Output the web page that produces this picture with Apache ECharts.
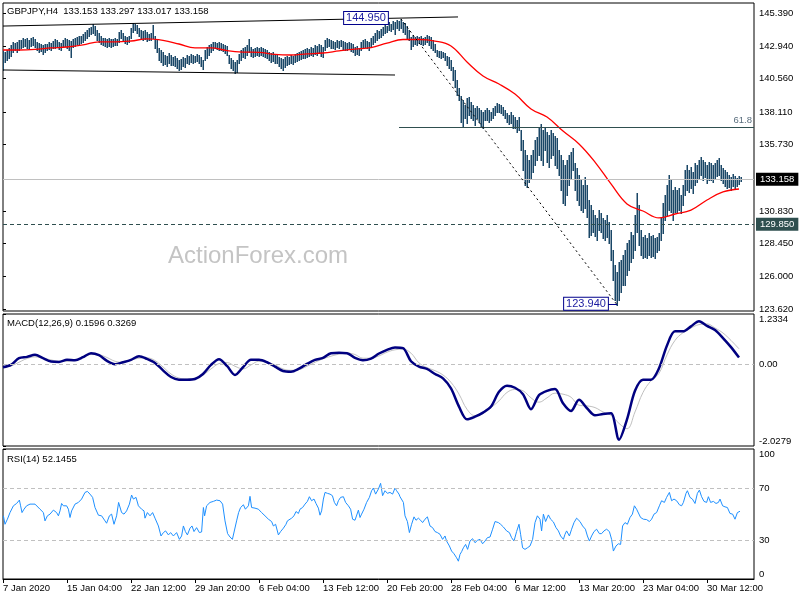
<!DOCTYPE html>
<html><head><meta charset="utf-8">
<script src="https://cdn.jsdelivr.net/npm/echarts@6/dist/echarts.min.js"></script>
<style>html,body{margin:0;padding:0;background:#fff}#c{width:800px;height:600px}</style>
</head><body><div id="c"></div>
<script>
const symbolTitle = 'GBPJPY,H4  133.153 133.297 133.017 133.158';
const macdTitle = 'MACD(12,26,9) 0.1596 0.3269';
const rsiTitle = 'RSI(14) 52.1455';
const timeLabels = ['7 Jan 2020','15 Jan 04:00','22 Jan 12:00','29 Jan 20:00','6 Feb 04:00','13 Feb 12:00','20 Feb 20:00','28 Feb 04:00','6 Mar 12:00','13 Mar 20:00','23 Mar 04:00','30 Mar 12:00'];
const timeLabelIdx = [0,32,64,96,128,160,192,224,256,288,320,352];
const priceTicks = [145.39,142.94,140.56,138.11,135.73,130.83,128.45,126.00,123.62];
const macdTicks = [1.2334,0,-2.0279];
const rsiTicks = [100,70,30,0];

const highs = [
142.67,142.52,142.67,142.82,143.04,143.26,143.18,143.26,143.40,143.40,
143.55,143.48,143.55,143.40,143.55,143.63,143.48,143.26,143.18,143.11,
143.04,143.11,143.11,143.26,143.18,143.33,143.48,143.40,143.26,143.18,
143.40,143.55,143.48,143.40,143.33,143.48,143.55,143.63,143.70,143.70,
143.85,143.99,144.14,144.29,144.36,144.58,144.43,144.14,143.92,143.70,
143.55,143.55,143.48,143.55,143.48,143.48,143.55,143.48,143.99,144.14,
143.92,143.70,143.63,143.70,144.29,144.66,144.58,144.51,144.29,144.14,
144.07,144.14,143.99,143.85,143.92,144.51,143.70,143.40,142.82,142.67,
142.52,142.30,142.23,142.45,142.30,142.16,142.23,142.08,141.93,142.01,
142.16,142.08,142.30,142.23,142.38,142.30,142.23,142.38,142.30,142.16,
141.93,142.67,142.89,143.04,143.11,143.26,143.26,143.18,143.26,143.18,
143.11,143.04,142.96,142.30,142.08,141.93,141.79,141.93,142.38,142.67,
142.82,142.89,143.04,143.48,142.89,142.74,142.82,142.89,142.82,142.89,
142.82,142.74,142.67,142.52,142.45,142.52,142.38,142.30,142.16,142.08,
142.01,142.16,142.23,142.16,142.30,142.23,142.38,142.45,142.52,142.60,
142.67,142.74,142.82,142.74,142.89,142.82,143.04,142.96,143.11,143.04,
142.89,143.40,143.55,143.48,143.40,143.33,143.26,143.40,143.33,143.40,
143.33,143.26,143.18,143.26,143.18,143.11,142.89,142.96,142.82,143.26,
143.40,143.48,143.33,143.26,143.55,143.70,143.92,144.14,144.07,144.21,
144.36,144.51,144.43,144.73,144.58,144.80,144.73,144.88,144.80,144.95,
144.73,144.66,144.43,144.14,143.63,143.77,143.63,143.70,143.63,143.70,
143.55,143.63,143.77,143.70,143.63,143.40,143.11,142.67,142.60,142.60,
142.52,142.45,142.23,142.16,141.93,141.42,141.20,140.46,139.88,139.29,
138.99,138.63,139.14,139.21,138.85,138.63,138.41,138.55,138.41,138.26,
138.11,138.26,138.41,138.26,138.11,138.41,138.55,138.77,138.70,138.63,
138.48,138.26,138.04,137.89,138.11,137.89,137.74,137.52,137.74,136.79,
136.05,135.32,134.95,134.58,134.95,135.32,136.05,136.27,137.01,137.23,
136.79,136.93,136.64,136.42,136.79,136.57,136.35,136.20,135.32,134.95,
134.58,134.21,134.58,134.95,135.17,135.46,134.36,133.99,133.48,133.11,
132.74,133.33,132.74,131.64,131.27,130.90,130.54,130.32,130.90,130.68,
130.32,130.17,130.54,130.02,129.43,127.96,126.86,126.35,127.08,127.23,
127.60,127.96,128.48,128.70,129.29,129.07,130.54,132.16,131.27,129.43,
128.92,129.07,128.85,129.21,128.99,129.07,128.85,128.92,129.21,130.32,
131.42,132.01,132.74,133.48,133.11,132.38,132.60,132.38,132.52,132.01,
132.74,133.85,134.21,133.85,134.07,133.70,134.36,134.21,134.58,134.80,
134.58,134.43,134.21,134.43,134.36,134.21,134.36,134.58,134.73,134.21,
133.99,133.85,133.70,133.48,133.33,133.55,133.41,133.26,133.41,133.297];

const lows = [
141.20,141.79,141.93,142.08,142.23,142.52,142.67,142.52,142.67,142.82,
142.89,142.96,142.82,142.74,142.96,143.04,142.89,142.67,142.52,142.60,
142.38,142.52,142.67,142.74,142.67,142.82,142.82,142.89,142.74,142.67,
142.89,142.96,142.82,142.67,142.16,142.89,142.96,143.11,143.11,143.18,
143.26,143.40,143.55,143.70,143.85,143.92,143.77,143.40,143.26,143.11,
143.04,142.96,142.89,142.96,142.89,142.96,143.04,143.04,143.26,143.55,
143.33,143.18,143.11,143.26,143.55,143.99,144.14,143.92,143.70,143.55,
143.40,143.48,143.33,143.40,143.40,143.55,142.82,142.52,141.93,141.79,
141.57,141.64,141.49,141.71,141.57,141.57,141.49,141.35,141.20,141.27,
141.49,141.42,141.71,141.64,141.79,141.71,141.79,141.86,141.71,141.49,
141.27,141.93,142.08,142.30,142.52,142.67,142.82,142.74,142.67,142.67,
142.60,142.45,142.30,141.71,141.35,141.20,140.98,141.05,141.71,141.93,
142.16,142.08,142.30,142.52,142.23,142.16,142.23,142.30,142.23,142.30,
142.23,142.16,142.08,141.93,141.79,141.86,141.71,141.71,141.49,141.35,
141.20,141.42,141.57,141.64,141.71,141.64,141.79,141.86,141.93,142.01,
142.08,142.08,142.16,142.23,142.30,142.23,142.38,142.30,142.45,142.23,
142.16,142.67,142.89,142.96,142.82,142.82,142.74,142.89,142.82,142.96,
142.74,142.67,142.67,142.74,142.60,142.52,142.30,142.38,142.30,142.67,
142.82,142.89,142.82,142.67,142.96,143.11,143.26,143.40,143.55,143.63,
143.77,143.92,143.99,144.14,144.07,144.21,143.85,144.29,144.14,144.29,
143.99,143.85,143.55,143.40,142.74,142.96,143.11,143.04,143.18,143.11,
143.04,143.11,143.26,143.04,142.82,142.67,142.52,142.23,142.16,142.08,
142.16,141.93,141.57,141.35,141.20,140.46,139.95,139.36,138.99,137.38,
137.08,137.67,137.30,137.89,137.67,137.52,137.15,137.67,137.38,137.08,
136.93,137.52,137.52,137.38,137.52,137.67,137.89,138.11,138.11,138.04,
137.89,137.67,137.38,137.23,137.30,136.93,136.93,136.64,136.79,135.32,
133.85,132.74,132.60,132.96,133.26,133.70,134.21,134.58,134.95,134.58,
134.21,135.32,134.43,134.07,134.73,134.95,134.21,133.99,133.48,132.38,
131.42,131.27,132.01,132.74,133.26,133.85,132.38,131.64,131.27,130.90,
130.76,131.05,130.39,128.92,129.07,129.29,128.99,128.70,129.43,129.29,
128.85,128.70,128.92,128.48,127.23,125.76,124.29,123.94,124.29,124.87,
125.39,125.39,126.13,126.49,127.08,127.37,127.96,129.29,128.33,127.60,
127.37,127.45,127.37,127.60,127.45,127.52,127.37,127.82,127.96,128.70,
129.21,130.17,130.54,130.90,130.76,130.17,130.76,130.68,130.90,130.68,
131.27,132.01,132.38,132.23,132.52,132.16,132.74,132.96,133.26,133.48,
133.11,133.33,132.89,133.11,133.11,132.96,133.26,133.41,133.48,133.11,
132.89,132.67,132.52,132.60,132.38,132.67,132.52,132.67,132.82,133.017];

const maStep = 8;
const ma = [142.67,142.67,142.71,142.82,142.89,143.04,143.26,143.26,143.33,143.48,
143.37,143.11,142.82,142.82,142.63,142.52,142.49,142.34,142.30,142.38,
142.45,142.60,142.74,142.85,143.18,143.44,143.44,143.33,142.96,141.79,
140.76,140.17,139.43,138.33,137.74,136.71,135.76,134.43,132.82,131.35,
130.83,130.32,130.61,130.90,131.64,132.23,132.45];

const macdStep = 4;
const macdMain = [-0.083,-0.025,0.141,0.174,0.224,0.141,0.058,0.050,0.100,0.091,
0.166,0.266,0.216,0.075,-0.008,0.041,0.100,0.191,0.124,0.025,
-0.158,-0.324,-0.390,-0.390,-0.373,-0.249,-0.025,0.116,-0.050,-0.274,
-0.083,0.100,0.100,0.041,-0.066,-0.174,-0.191,-0.116,0.000,0.100,
0.149,0.266,0.274,0.266,0.149,0.091,0.133,0.257,0.349,0.407,
0.390,0.066,-0.066,-0.124,-0.249,-0.357,-0.606,-1.054,-1.369,-1.303,
-1.203,-1.054,-0.689,-0.539,-0.589,-0.747,-1.120,-0.772,-0.664,-0.622,
-0.971,-1.162,-0.888,-1.095,-1.270,-1.237,-1.220,-1.870,-1.369,-0.664,
-0.390,-0.390,-0.108,0.456,0.805,0.805,0.929,1.054,0.938,0.838,
0.639,0.415,0.158];
const macdSignal = [-0.083,-0.050,0.041,0.133,0.174,0.141,0.100,0.066,0.066,0.091,
0.166,0.232,0.224,0.158,0.066,0.041,0.091,0.141,0.149,0.083,
-0.075,-0.249,-0.349,-0.373,-0.349,-0.274,-0.124,0.008,0.033,-0.058,
-0.124,-0.025,0.066,0.041,-0.025,-0.124,-0.158,-0.141,-0.058,0.041,
0.124,0.191,0.241,0.266,0.232,0.141,0.141,0.199,0.290,0.349,
0.365,0.266,0.025,-0.091,-0.166,-0.274,-0.456,-0.747,-1.120,-1.278,
-1.228,-1.079,-0.913,-0.705,-0.631,-0.664,-0.838,-0.946,-0.838,-0.722,
-0.747,-0.822,-1.021,-1.037,-1.079,-1.187,-1.270,-1.469,-1.602,-1.187,
-0.705,-0.415,-0.232,0.224,0.581,0.772,0.888,0.971,0.988,0.888,
0.763,0.581,0.373];

const rsi = [[0.2,48.6],[1,42.1],[2.2,46.0],[3.5,51.1],[5.2,56.3],[6.8,58.1],[8.2,60.7],[8.8,56.3],[9.5,51.1],[10.5,53.7],[11.8,56.3],[13.5,57.6],[14.3,58.9],[16,57.6],[16.8,58.1],[18.5,53.7],[20.2,51.1],[21,44.7],[22.2,48.6],[23.5,49.9],[25.2,53.0],[26,53.7],[26.8,51.1],[27.7,48.6],[28.5,52.4],[29.3,58.1],[30.2,56.3],[31.8,56.3],[32.7,53.7],[33.5,47.3],[34.3,52.4],[36,57.6],[37.7,58.9],[39.3,61.5],[41,66.6],[42.2,67.4],[43.5,65.3],[44.8,62.8],[46,55.0],[47.7,49.1],[49.3,48.6],[51,44.7],[51.8,42.9],[53.2,48.6],[54.3,49.9],[55.5,42.1],[56.8,48.6],[57.8,58.9],[58.5,60.2],[59.3,51.1],[60.5,49.9],[61.8,52.4],[63.2,57.6],[64.3,64.6],[65.2,61.5],[66.5,62.8],[67.7,56.3],[69.3,53.7],[70.5,52.4],[71,46.8],[72.2,51.1],[73.5,48.6],[74.8,51.1],[76,46.8],[77.7,40.8],[79,33.1],[80.2,35.7],[81.3,37.0],[82.7,33.9],[83.8,35.7],[85.2,33.1],[86.8,35.7],[88.2,30.5],[89.3,33.1],[90.2,40.8],[91.2,36.5],[92.2,33.9],[93.5,39.1],[94.5,40.8],[95.5,36.5],[96.8,39.5],[98.2,35.7],[99.3,36.2],[100.2,55.0],[100.8,48.6],[101.8,56.3],[103.5,58.9],[105.2,59.7],[106.8,60.7],[108.5,60.2],[109.8,57.6],[111,44.7],[112.3,34.9],[113.5,32.3],[114.7,30.5],[115.7,31.8],[116.8,44.7],[117.8,51.1],[118.8,55.0],[120.2,57.1],[121.2,53.7],[122.7,56.3],[123.5,63.6],[124.3,55.0],[126,54.5],[127.7,53.7],[129.3,51.1],[131,48.6],[132.7,46.0],[134.3,44.2],[135.2,40.8],[136.3,42.1],[137.7,33.9],[138.8,36.5],[140.2,39.1],[141.5,42.1],[142.2,44.7],[143.2,43.4],[144.3,46.8],[145.5,48.6],[146.5,51.9],[147.7,50.4],[148.5,53.7],[149.8,55.0],[151,57.6],[152.2,59.7],[153.2,63.3],[154.3,60.2],[155.5,61.5],[156.5,58.1],[157.7,54.5],[158.5,49.1],[159.3,52.4],[160.2,61.5],[161,66.6],[162.2,65.9],[163.5,65.3],[164.7,64.1],[165.7,58.9],[166.8,56.3],[167.7,60.2],[168.8,62.8],[170.2,63.3],[171.3,58.9],[172.7,56.3],[173.8,53.7],[174.8,46.0],[176,45.2],[176.8,44.2],[177.7,53.0],[178.5,47.3],[179.3,49.9],[180.5,53.7],[181.8,58.9],[183.2,62.8],[184.3,67.9],[185.2,70.0],[186.3,65.3],[187.7,69.2],[188.8,73.6],[189.8,64.1],[191,67.9],[192.2,65.9],[193.5,66.6],[194.8,65.3],[196,70.0],[196.8,67.9],[198,65.3],
[198.5,63.3],[200.2,58.9],[201,48.6],[202.2,44.2],[203.2,35.7],[204.3,42.1],[205.5,47.8],[206.5,45.2],[207.7,46.8],[208.8,45.2],[209.8,43.4],[211,46.0],[212.2,47.8],[213.5,40.8],[214.8,39.5],[216,36.5],[217.2,35.7],[218.5,34.4],[219.8,30.5],[221,33.1],[221.8,29.2],[223.2,25.4],[224.3,21.5],[225.5,19.4],[226.8,16.3],[227.7,13.7],[228.5,18.9],[229.3,21.0],[230.2,24.0],[231.3,26.6],[232.3,22.8],[233.5,29.2],[234.8,31.0],[236,27.9],[237.2,29.7],[238.5,30.5],[239.8,27.1],[241,29.2],[242.2,31.8],[243.5,32.3],[244.8,38.3],[246,44.2],[247.7,43.4],[248.8,42.1],[250.2,40.0],[251.8,37.0],[253.2,35.7],[254.3,31.8],[255.5,29.2],[256.8,36.5],[258,42.1],[258.8,34.4],[259.8,24.0],[261,22.8],[262.2,24.0],[263.5,25.4],[264.8,30.5],[266,43.4],[267.2,48.6],[268.5,46.0],[269.3,37.0],[270.2,49.9],[271.3,44.2],[272.7,49.3],[273.8,46.0],[275.2,43.9],[276.5,39.5],[277.7,37.0],[278.8,33.1],[280.2,30.5],[281,34.4],[281.8,37.0],[283.2,33.1],[284.3,38.3],[285.5,43.4],[286.8,46.8],[288.5,44.2],[289.8,40.8],[291.2,38.3],[292.2,33.1],[293.2,29.2],[294.3,33.1],[295.5,36.5],[296.8,38.3],[298.2,34.9],[299.3,34.9],[300.5,37.0],[301.8,38.3],[303.2,36.5],[304.3,30.5],[305.2,21.5],[306.5,25.4],[307.7,27.1],[308.8,26.6],[309.8,40.8],[311,43.4],[312.2,42.1],[313.5,47.3],[314.7,49.9],[315.7,56.3],[316.8,53.7],[317.7,55.0],[318.8,47.3],[320.2,46.0],[321.8,45.7],[323.2,44.2],[324.3,46.0],[325.5,49.9],[326.8,51.1],[328.2,56.3],[329.3,60.2],[330.7,58.9],[331.8,62.8],[333.2,66.6],[334.3,60.2],[335.5,61.5],[336.8,60.2],[338.2,57.1],[339.3,56.3],[340.2,58.9],[341.5,65.9],[342.2,67.9],[343.5,62.8],[344.7,61.5],[346,58.1],[347.2,65.9],[348.2,68.4],[349.3,63.3],[350.5,59.7],[351.8,58.9],[352.7,63.3],[353.8,58.9],[355.2,59.7],[356.5,58.1],[357.7,58.9],[358.5,61.5],[359.8,56.3],[361,55.5],[362.2,55.0],[363.5,50.4],[364.8,49.9],[366,46.0],[367.2,51.1],[368.5,52.1]];

const lastPrice = 133.158;
const supportLevel = 129.85;
const fib618Level = 136.99;
const swingHigh = 144.95, swingHighIdx = 199;
const swingLow = 123.94, swingLowIdx = 307;
const channelUpper = [[0,144.43],[227.5,145.10]];
const channelLower = [[0,141.20],[196,140.83]];
const fibStartIdx = 198;

const FONT = '"Liberation Sans", Arial, sans-serif';
const XMAX = 375.5;
const BAR_COLOR = '#1a4767';

const chart = echarts.init(document.getElementById('c'), null, {renderer: 'canvas'});

const hiddenX = (g) => ({type:'value', gridIndex:g, min:0, max:XMAX, axisLine:{show:false}, axisTick:{show:false}, axisLabel:{show:false}, splitLine:{show:false}});
const txt = {fontSize: 9.5, color: '#000', fontFamily: FONT};
const titleStyle = {fontSize: 9.5, fontWeight: 'normal', color: '#000', fontFamily: FONT};

function renderBar(params, api) {
  const top = api.coord([api.value(0), api.value(1)]);
  const bot = api.coord([api.value(0), api.value(2)]);
  const x = top[0] + 0.25;
  return {type:'line', shape:{x1:x, y1:Math.round(top[1]), x2:x, y2:Math.round(bot[1]) + 1}, style:{stroke:BAR_COLOR, lineWidth:1.5}};
}

const option = {
  animation: false,
  backgroundColor: '#fff',
  title: [
    {text: symbolTitle, left: 7, top: 6, padding: 0, textStyle: titleStyle},
    {text: macdTitle, left: 7, top: 318, padding: 0, textStyle: titleStyle},
    {text: rsiTitle, left: 7, top: 454, padding: 0, textStyle: titleStyle}
  ],
  graphic: [{type: 'text', left: 168, top: 244, z: 0, style: {text: 'ActionForex.com', fill: '#c4c4c4', font: '24px "Liberation Sans", Arial, sans-serif'}}],
  grid: [
    {left: 3, right: 46, top: 3, height: 308, show: true, borderColor: '#000', borderWidth: 1, backgroundColor: 'transparent'},
    {left: 3, right: 46, top: 314, height: 132, show: true, borderColor: '#000', borderWidth: 1, backgroundColor: 'transparent'},
    {left: 3, right: 46, top: 449, height: 130, show: true, borderColor: '#000', borderWidth: 1, backgroundColor: 'transparent'}
  ],
  xAxis: [
    hiddenX(0), hiddenX(1),
    {type:'value', gridIndex:2, min:0, max:XMAX, splitLine:{show:false},
     axisLine:{show:true, lineStyle:{color:'#000'}},
     axisTick:{show:true, customValues: timeLabelIdx, length: 4, lineStyle:{color:'#000'}},
     axisLabel:{show:true, customValues: timeLabelIdx, formatter: v => timeLabels[timeLabelIdx.indexOf(v)] || '', align:'left', margin:4, ...txt}}
  ],
  yAxis: [
    {type:'value', gridIndex:0, position:'right', min:123.478, max:146.125, splitLine:{show:false},
     axisLine:{show:false}, axisTick:{show:true, customValues: priceTicks, length:3, lineStyle:{color:'#000'}},
     axisLabel:{customValues: priceTicks, formatter: v => v.toFixed(3), margin:5, ...txt}},
    {type:'value', gridIndex:1, position:'right', min:-2.0279, max:1.2334, splitLine:{show:false},
     axisLine:{show:false}, axisTick:{show:true, customValues: macdTicks, length:3, lineStyle:{color:'#000'}},
     axisLabel:{customValues: macdTicks, formatter: v => v === 0 ? '0.00' : v.toFixed(4), margin:5, verticalAlignMaxLabel:'bottom', verticalAlignMinLabel:'top', ...txt}},
    {type:'value', gridIndex:2, position:'right', min:0, max:100, splitLine:{show:false},
     axisLine:{show:false}, axisTick:{show:true, customValues: rsiTicks, length:3, lineStyle:{color:'#000'}},
     axisLabel:{customValues: rsiTicks, formatter: v => String(v), margin:5, verticalAlignMaxLabel:'bottom', verticalAlignMinLabel:'top', ...txt}}
  ],
  series: [
    {type:'custom', name:'bars', xAxisIndex:0, yAxisIndex:0, renderItem: renderBar, clip: true,
     encode:{x:0, y:[1,2]}, data: highs.map((h,i) => [i, h, lows[i]]), z: 2},
    {type:'line', name:'MA', xAxisIndex:0, yAxisIndex:0, symbol:'none', smooth:0.4, z:3,
     lineStyle:{color:'#ff0000', width:1.3}, data: ma.map((v,k) => [k*maStep, v]),
     markLine: {silent:true, symbol:['none','none'], animation:false,
       data: [
         {yAxis: lastPrice, lineStyle:{color:'#c0c0c0', type:'solid', width:1},
          label:{show:true, position:'end', distance:2, formatter:'133.158', backgroundColor:'#000', color:'#fff', padding:[2,4,1,4], fontSize:9.5, fontFamily:FONT}},
         {yAxis: supportLevel, lineStyle:{color:'#2f4f4f', type:[4,3], width:1},
          label:{show:true, position:'end', distance:2, formatter:'129.850', backgroundColor:'#2f4f4f', color:'#fff', padding:[2,4,1,4], fontSize:9.5, fontFamily:FONT}},
         [{coord:[fibStartIdx, fib618Level], lineStyle:{color:'#2f4f4f', type:'solid', width:1},
           label:{show:true, position:'insideEndTop', formatter:'61.8', color:'#5a6e7e', fontSize:9.5, fontFamily:FONT, distance:2}},
          {coord:[XMAX, fib618Level]}],
         [{coord:channelUpper[0], lineStyle:{color:'#000', type:'solid', width:1}, label:{show:false}}, {coord:channelUpper[1]}],
         [{coord:channelLower[0], lineStyle:{color:'#000', type:'solid', width:1}, label:{show:false}}, {coord:channelLower[1]}],
         [{coord:[swingHighIdx, swingHigh], lineStyle:{color:'#000', type:[2,3], width:1}, label:{show:false}}, {coord:[swingLowIdx, swingLow]}],
         [{coord:[swingLowIdx-5, swingLow], lineStyle:{color:'#00008b', type:'solid', width:1}, label:{show:false}}, {coord:[swingLowIdx, swingLow]}]
       ]},
     markPoint: {silent:true, symbol:'rect', symbolSize:0, animation:false,
       data: [
         {coord:[swingHighIdx, swingHigh], label:{show:true, formatter:'144.950', offset:[-35,-1], backgroundColor:'#fff', borderColor:'#00008b', borderWidth:1, padding:[1,2,0,2], color:'#1a1aa0', fontSize:11, fontFamily:FONT}},
         {coord:[swingLowIdx, swingLow], label:{show:true, formatter:'123.940', offset:[-31,-1], backgroundColor:'#fff', borderColor:'#00008b', borderWidth:1, padding:[1,2,0,2], color:'#1a1aa0', fontSize:11, fontFamily:FONT}}
       ]}
    },
    {type:'line', name:'Signal', xAxisIndex:1, yAxisIndex:1, symbol:'none', smooth:0.4, z:3,
     lineStyle:{color:'#c0c0c0', width:1}, data: macdSignal.map((v,k) => [k*macdStep, v])},
    {type:'line', name:'MACD', xAxisIndex:1, yAxisIndex:1, symbol:'none', smooth:0.3, z:4,
     lineStyle:{color:'#000080', width:2.5}, data: macdMain.map((v,k) => [k*macdStep, v]),
     markLine:{silent:true, symbol:['none','none'], label:{show:false}, lineStyle:{color:'#c0c0c0', type:[4,3], width:1}, data:[{yAxis:0}]}},
    {type:'line', name:'RSI', xAxisIndex:2, yAxisIndex:2, symbol:'none', z:4,
     lineStyle:{color:'#1e90ff', width:1}, data: rsi,
     markLine:{silent:true, symbol:['none','none'], label:{show:false}, lineStyle:{color:'#c0c0c0', type:[4,3], width:1}, data:[{yAxis:70},{yAxis:30}]}}
  ]
};
chart.setOption(option);
</script>
</body></html>
